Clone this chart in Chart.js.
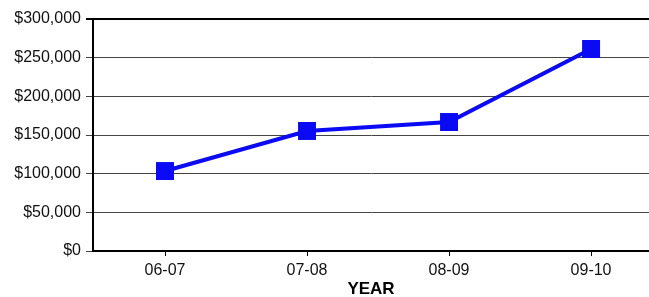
<!DOCTYPE html>
<html>
<head>
<meta charset="utf-8">
<script src="https://cdn.jsdelivr.net/npm/chart.js@4/dist/chart.umd.min.js"></script>
<style>
  html, body { margin: 0; padding: 0; overflow: hidden; background: #fff; }
</style>
</head>
<body>
<canvas id="chart" width="649" height="297"></canvas>
<script>
const years = ['06-07', '07-08', '08-09', '09-10'];
const amounts = [103400, 155200, 166800, 261200];
const yMin = 0;
const yMax = 300000;
const yStep = 50000;

// x is linear so the last category can sit close to the right edge like the original
const points = years.map((yr, i) => ({ x: i, y: amounts[i] }));

const ctx = document.getElementById('chart').getContext('2d');
const chart = new Chart(ctx, {
  type: 'line',
  data: {
    datasets: [{
      data: points,
      borderColor: '#0a0af5',
      backgroundColor: '#0a0af5',
      borderWidth: 4,
      pointStyle: 'rect',
      pointRadius: 12.7,
      pointHoverRadius: 12.7,
      pointBorderWidth: 0,
      tension: 0,
      clip: false
    }]
  },
  options: {
    responsive: false,
    animation: false,
    layout: { autoPadding: false, padding: { top: 19, left: 0, right: 0, bottom: 0 } },
    plugins: { legend: { display: false }, tooltip: { enabled: false } },
    scales: {
      x: {
        type: 'linear',
        min: -0.507,
        max: 3.408,
        afterBuildTicks: (s) => { s.ticks = years.map((yr, i) => ({ value: i })); },
        grid: {
          drawOnChartArea: false,
          color: (c) => (c.tick && c.index < years.length) ? '#000' : 'rgba(0,0,0,0)',
          tickLength: 5,
          lineWidth: 1
        },
        border: { color: '#000', width: 2 },
        ticks: {
          color: '#111',
          font: { family: 'Liberation Sans', size: 16 },
          padding: 5,
          callback: (v) => years[v]
        },
        title: { display: true, text: 'YEAR', color: '#000', font: { family: 'Liberation Sans', size: 17, weight: 'bold', lineHeight: 0.85 }, padding: { top: 9, bottom: 0 } },
        afterFit: (s) => { s.height = 46; }
      },
      y: {
        min: yMin,
        max: yMax,
        ticks: {
          stepSize: yStep,
          color: '#111',
          font: { family: 'Liberation Sans', size: 16 },
          padding: 5,
          callback: (v) => '$' + v.toLocaleString('en-US')
        },
        grid: {
          color: (c) => c.tick && c.tick.value === yMax ? '#000' : '#444',
          lineWidth: (c) => c.tick && c.tick.value === yMax ? 2 : 1,
          tickLength: 7
        },
        border: { color: '#000', width: 2 },
        afterFit: (s) => { s.width = 93; }
      }
    }
  }
});
</script>
</body>
</html>
